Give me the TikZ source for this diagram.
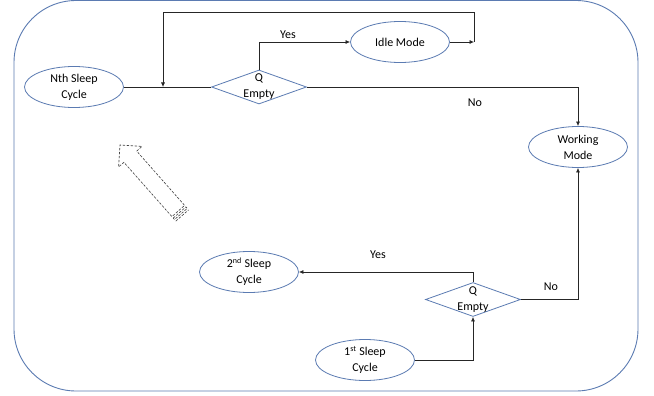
\documentclass[tikz,border=0pt]{standalone}
\usepackage{fontspec}
\setmainfont{Carlito}
\usetikzlibrary{shapes.geometric,arrows.meta}
\definecolor{frame}{HTML}{5B7BB2}
\tikzset{
  stateell/.style={ellipse, draw=frame, line width=0.8pt, minimum width=99pt, minimum height=41pt, inner sep=0pt, align=center, font=\fontsize{12}{16}\selectfont},
  decision/.style={diamond, draw=frame, line width=0.8pt, minimum width=95pt, minimum height=34pt, inner sep=0pt, aspect=2.8},
  dtext/.style={align=center, font=\fontsize{12}{16}\selectfont, inner sep=0pt},
  conn/.style={draw=black!85, line width=0.7pt},
  arr/.style={conn, -{Latex[length=4.5pt,width=4pt]}},
  lbl/.style={font=\fontsize{12}{14}\selectfont, inner sep=0pt},
  hollow/.style={draw=black!75, dashed, dash pattern=on 2.5pt off 1.5pt, line width=0.6pt}
}
\begin{document}
\begin{tikzpicture}[x=1pt,y=-1pt]
\useasboundingbox (0,0) rectangle (654,396);
\fill[white] (0,0) rectangle (654,396);
\draw[frame, line width=0.9pt, rounded corners=62pt] (14,0.5) rectangle (638,391);

% nodes
\node[stateell] (nth) at (74,87) {Nth Sleep\\Cycle};
\node[decision] (d1) at (259,87) {};
\node[dtext] (d1t) at (259,87) {Q\\Empty};
\node[stateell] (idle) at (400,42) {Idle Mode};
\node[stateell] (work) at (578,147) {Working\\Mode};
\node[decision] (d2) at (473,299.5) {};
\node[dtext] (d2t) at (473,299.5) {Q\\Empty};
\node[stateell] (s2) at (249,272) {2\textsuperscript{nd} Sleep\\Cycle};
\node[stateell] (s1) at (365,360) {1\textsuperscript{st} Sleep\\Cycle};

\coordinate (c1) at (474,42);
\coordinate (c2) at (474,12);
\coordinate (c3) at (163,87);

% connectors
\draw[conn] (nth.east) -- (d1.west);
\draw[arr] (d1.north) |- (idle.west);
\draw[arr] (idle.east) -- (c1);
\draw[arr] (c1) -- (c2) -| (c3);
\draw[arr] (d1.east) -| (work.north);
\draw[arr] (d2.east) -| (work.south);
\draw[arr] (d2.north) |- (s2.east);
\draw[arr] (s1.east) -| (d2.south);

% labels
\node[lbl] (yes1) at (288,35) {Yes};
\node[lbl] (no1) at (475,103) {No};
\node[lbl] (yes2) at (378,255) {Yes};
\node[lbl] (no2) at (551,287) {No};

% dashed hollow block arrow
\draw[hollow] (136.7,151.1) -- (142.0,146.4) -- (120,145) -- (118.6,167.0) -- (123.9,162.3)
  -- (171.9,216.6) -- (184.6,205.4) -- cycle;
\draw[hollow] (173.2,218.1) -- (185.9,206.9) -- (187.2,208.4) -- (174.5,219.6) -- cycle;
\draw[hollow] (175.8,221.1) -- (188.6,209.9);
\end{tikzpicture}
\end{document}
